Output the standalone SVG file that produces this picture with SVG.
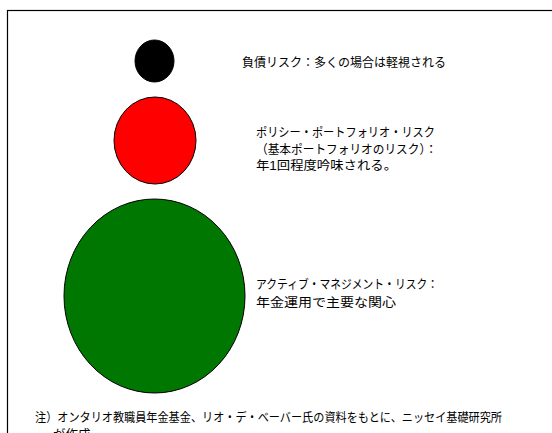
<svg xmlns="http://www.w3.org/2000/svg" width="552" height="433" viewBox="0 0 552 433">
<style>
.t{font-family:"Liberation Sans","Noto Sans CJK JP",sans-serif;font-size:12.5px;fill:#000}
.c{stroke:#000;stroke-width:1}
</style>
<rect x="0" y="0" width="552" height="433" fill="#fff"/>
<rect x="7.5" y="10.5" width="700" height="600" fill="none" stroke="#000" stroke-width="1.2"/>
<g id="liability">
<ellipse class="c" cx="154.5" cy="61" rx="19.5" ry="21" fill="#000"/>
<text class="t" x="242" y="67" textLength="204" lengthAdjust="spacingAndGlyphs">負債リスク：多くの場合は軽視される</text>
</g>
<g id="policy">
<ellipse class="c" cx="155" cy="140.5" rx="41" ry="43.5" fill="#f00"/>
<text class="t" x="256" y="137" textLength="179" lengthAdjust="spacingAndGlyphs">ポリシー・ポートフォリオ・リスク</text>
<text class="t" x="256" y="153.5" textLength="181" lengthAdjust="spacingAndGlyphs">（基本ポートフォリオのリスク）：</text>
<text class="t" x="256" y="170" textLength="141" lengthAdjust="spacingAndGlyphs">年1回程度吟味される。</text>
</g>
<g id="active">
<ellipse class="c" cx="154.5" cy="296" rx="90.5" ry="97" fill="#007700"/>
<text class="t" x="256" y="289" textLength="182" lengthAdjust="spacingAndGlyphs">アクティブ・マネジメント・リスク：</text>
<text class="t" x="256" y="307" textLength="140" lengthAdjust="spacingAndGlyphs">年金運用で主要な関心</text>
</g>
<g id="note">
<text class="t" x="35" y="422" textLength="467" lengthAdjust="spacingAndGlyphs">注）オンタリオ教職員年金基金、リオ・デ・ベーバー氏の資料をもとに、ニッセイ基礎研究所</text>
<text class="t" x="53" y="439">が作成</text>
</g>
<g id="connectors"/>
</svg>
